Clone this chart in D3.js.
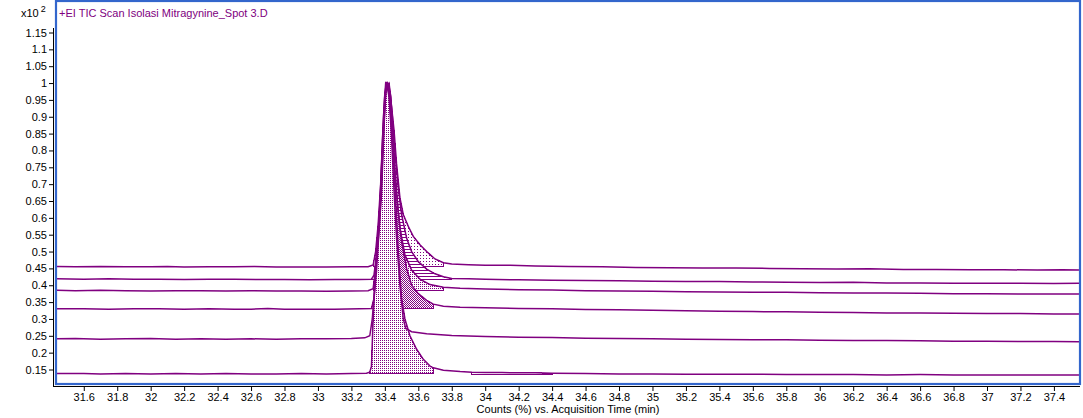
<!DOCTYPE html>
<html><head><meta charset="utf-8">
<script src="https://cdn.jsdelivr.net/npm/d3@7"></script>
<style>body{margin:0;background:#fff;overflow:hidden}</style>
</head><body><svg id="c" width="1083" height="418"></svg>
<script>
const titleText = "+EI TIC Scan Isolasi Mitragynine_Spot 3.D";
const xTitle = "Counts (%) vs. Acquisition Time (min)";
const xTicks = [31.6,31.8,32,32.2,32.4,32.6,32.8,33,33.2,33.4,33.6,33.8,34,34.2,34.4,34.6,34.8,35,35.2,35.4,35.6,35.8,36,36.2,36.4,36.6,36.8,37,37.2,37.4];
const yTicks = [0.15,0.2,0.25,0.3,0.35,0.4,0.45,0.5,0.55,0.6,0.65,0.7,0.75,0.8,0.85,0.9,0.95,1,1.05,1.1,1.15];
const xDomain = [31.434, 37.556];
const yDomain = [0.15, 1.15];

const traceA = [[31.44,0.456],[31.55,0.455],[31.7,0.456],[31.85,0.455],[32.0,0.455],[32.1,0.456],[32.2,0.454],[32.35,0.455],[32.5,0.455],[32.62,0.456],[32.75,0.454],[32.9,0.454],[33.05,0.454],[33.2,0.455],[33.3,0.455],
[33.33,0.46],[33.345,0.50],[33.36,0.58],[33.375,0.70],[33.39,0.88],[33.40,0.97],[33.41,1.0],[33.42,0.995],[33.43,0.97],[33.44,0.93],[33.455,0.86],[33.47,0.76],[33.49,0.66],[33.51,0.61],[33.54,0.575],[33.57,0.545],[33.61,0.52],[33.65,0.50],[33.70,0.478],[33.75,0.467],[33.80,0.463],[33.9,0.461],[34.0,0.459],[34.15,0.459],[34.3,0.457],[34.5,0.456],[34.7,0.455],[34.9,0.453],[35.1,0.452],[35.3,0.451],[35.5,0.451],[35.7,0.450],[35.9,0.449],[36.1,0.448],[36.3,0.449],[36.5,0.447],[36.7,0.447],[36.9,0.446],[37.1,0.446],[37.3,0.445],[37.45,0.446],[37.55,0.445]];
const traceB = [[31.44,0.419],[31.6,0.418],[31.75,0.419],[31.9,0.418],[32.05,0.418],[32.2,0.417],[32.35,0.418],[32.5,0.418],[32.65,0.417],[32.8,0.417],[32.95,0.416],[33.1,0.417],[33.25,0.417],[33.32,0.418],
[33.335,0.43],[33.35,0.49],[33.365,0.58],[33.38,0.72],[33.395,0.90],[33.405,0.975],[33.415,1.0],[33.425,0.99],[33.435,0.96],[33.445,0.90],[33.46,0.80],[33.48,0.69],[33.50,0.61],[33.53,0.54],[33.56,0.50],[33.60,0.47],[33.65,0.448],[33.70,0.434],[33.75,0.425],[33.80,0.420],[33.9,0.419],[34.0,0.418],[34.2,0.416],[34.4,0.415],[34.6,0.414],[34.8,0.413],[35.0,0.412],[35.2,0.411],[35.4,0.411],[35.6,0.410],[35.8,0.409],[36.0,0.408],[36.2,0.409],[36.4,0.407],[36.6,0.407],[36.8,0.406],[37.0,0.406],[37.2,0.406],[37.4,0.405],[37.55,0.406]];
const traceC = [[31.44,0.385],[31.55,0.384],[31.7,0.385],[31.85,0.384],[32.0,0.383],[32.15,0.384],[32.3,0.384],[32.45,0.383],[32.6,0.384],[32.75,0.383],[32.9,0.383],[33.05,0.382],[33.2,0.383],[33.3,0.384],
[33.33,0.39],[33.345,0.45],[33.36,0.55],[33.375,0.68],[33.385,0.82],[33.395,0.93],[33.405,1.0],[33.415,0.995],[33.425,0.98],[33.44,0.90],[33.455,0.78],[33.47,0.67],[33.49,0.57],[33.52,0.49],[33.56,0.445],[33.61,0.418],[33.67,0.402],[33.75,0.394],[33.85,0.391],[34.0,0.389],[34.2,0.387],[34.4,0.386],[34.6,0.384],[34.8,0.383],[35.0,0.382],[35.2,0.381],[35.4,0.380],[35.6,0.379],[35.8,0.379],[36.0,0.378],[36.2,0.377],[36.4,0.377],[36.6,0.376],[36.8,0.375],[37.0,0.375],[37.2,0.374],[37.4,0.374],[37.55,0.374]];
const traceD = [[31.44,0.330],[31.6,0.330],[31.75,0.329],[31.9,0.330],[32.05,0.330],[32.2,0.329],[32.35,0.330],[32.5,0.329],[32.6,0.329],[32.7,0.331],[32.8,0.329],[32.95,0.329],[33.1,0.329],[33.25,0.330],[33.32,0.331],
[33.335,0.36],[33.35,0.44],[33.365,0.56],[33.38,0.70],[33.395,0.88],[33.405,0.97],[33.415,0.995],[33.425,1.0],[33.435,0.96],[33.445,0.88],[33.46,0.74],[33.48,0.62],[33.50,0.53],[33.53,0.45],[33.56,0.40],[33.60,0.375],[33.65,0.355],[33.69,0.344],[33.75,0.338],[33.85,0.335],[34.0,0.333],[34.2,0.331],[34.4,0.330],[34.6,0.328],[34.8,0.327],[35.0,0.326],[35.2,0.324],[35.4,0.323],[35.6,0.322],[35.8,0.321],[36.0,0.320],[36.2,0.319],[36.4,0.318],[36.6,0.318],[36.8,0.317],[37.0,0.316],[37.2,0.316],[37.4,0.315],[37.55,0.315]];
const traceE = [[31.44,0.241],[31.55,0.242],[31.7,0.240],[31.85,0.241],[32.0,0.242],[32.15,0.240],[32.3,0.241],[32.45,0.240],[32.6,0.241],[32.75,0.240],[32.9,0.241],[33.05,0.241],[33.2,0.242],[33.28,0.244],[33.31,0.25],
[33.325,0.30],[33.34,0.40],[33.355,0.52],[33.37,0.64],[33.385,0.80],[33.40,0.95],[33.41,1.0],[33.425,0.96],[33.44,0.84],[33.455,0.68],[33.47,0.54],[33.49,0.40],[33.51,0.30],[33.525,0.272],[33.56,0.262],[33.65,0.256],[33.8,0.251],[34.0,0.248],[34.2,0.246],[34.4,0.245],[34.6,0.243],[34.8,0.242],[35.0,0.241],[35.2,0.240],[35.4,0.239],[35.6,0.238],[35.8,0.238],[36.0,0.237],[36.2,0.236],[36.4,0.236],[36.6,0.235],[36.8,0.234],[37.0,0.234],[37.2,0.233],[37.4,0.233],[37.55,0.232]];
const traceF = [[31.44,0.138],[31.6,0.138],[31.7,0.137],[31.85,0.138],[32.0,0.137],[32.15,0.138],[32.3,0.137],[32.45,0.138],[32.6,0.137],[32.75,0.137],[32.9,0.138],[33.05,0.137],[33.2,0.138],[33.29,0.139],[33.31,0.142],
[33.32,0.16],[33.33,0.30],[33.345,0.45],[33.365,0.56],[33.38,0.67],[33.395,0.87],[33.405,0.97],[33.41,1.0],[33.425,0.97],[33.44,0.87],[33.46,0.70],[33.48,0.50],[33.50,0.36],[33.52,0.30],[33.55,0.25],[33.59,0.21],[33.63,0.18],[33.67,0.16],[33.69,0.155],[33.75,0.148],[33.85,0.144],[33.92,0.142],[34.0,0.141],[34.1,0.141],[34.2,0.140],[34.3,0.140],[34.4,0.139],[34.6,0.138],[34.8,0.137],[35.0,0.137],[35.2,0.136],[35.4,0.136],[35.6,0.136],[35.8,0.135],[36.0,0.135],[36.2,0.135],[36.4,0.134],[36.6,0.135],[36.8,0.134],[37.0,0.134],[37.2,0.134],[37.4,0.134],[37.55,0.134]];

// integration regions: [start, end, baseline]
const fillA = [33.33, 33.75, 0.455];
const fillB = [33.32, 33.80, 0.417];
const fillC = [33.33, 33.75, 0.384];
const fillD = [33.32, 33.69, 0.330];
const fillF = [33.31, 33.69, 0.138];
const fillF2 = [33.92, 34.40, 0.136];

const PURPLE = "#800080";
const svg = d3.select("#c");
const font = "'Liberation Sans', Arial, sans-serif";

const x = d3.scaleLinear().domain(xDomain).range([56, 1080]);
const y = d3.scaleLinear().domain(yDomain).range([369.5, 32.5]);

const defs = svg.append("defs");
defs.append("clipPath").attr("id","plot").append("rect").attr("x",57).attr("y",2).attr("width",1022).attr("height",381);
function pat(id, w, h, rects){
  const p = defs.append("pattern").attr("id",id).attr("patternUnits","userSpaceOnUse").attr("width",w).attr("height",h);
  p.append("rect").attr("width",w).attr("height",h).attr("fill","#fff");
  rects.forEach(r=>p.append("rect").attr("x",r[0]).attr("y",r[1]).attr("width",r[2]).attr("height",r[3]).attr("fill",PURPLE));
}
pat("pSparse",3,3,[[0,0,1,1]]);
pat("pHoriz",3,3,[[0,0,3,1]]);
pat("pDots",2,2,[[0,0,1,1]]);
pat("pCheck",2,2,[[0,0,1,1],[1,1,1,1]]);
pat("pGrid",3,3,[[0,0,1,1],[1,1,1,1],[2,2,1,1]]);

const plot = svg.append("g").attr("clip-path","url(#plot)");

const series = [
  {d:traceA, f:[fillA], p:["pSparse"]},
  {d:traceB, f:[fillB], p:["pHoriz"]},
  {d:traceC, f:[fillC], p:["pDots"]},
  {d:traceD, f:[fillD], p:["pCheck"]},
  {d:traceE, f:[], p:[]},
  {d:traceF, f:[fillF, fillF2], p:["pDots","pDots"]}
];

const line = d3.line().x(d=>x(d[0])).y(d=>y(d[1]));
series.forEach(s=>{
  s.f.forEach((fr,i)=>{
    const pts = s.d.filter(d=>d[0]>=fr[0]-1e-9 && d[0]<=fr[1]+1e-9);
    const area = d3.area().x(d=>x(d[0])).y0(y(fr[2])).y1(d=>y(d[1]));
    plot.append("path").attr("d",area(pts)).attr("fill","url(#"+s.p[i]+")")
      .attr("stroke",PURPLE).attr("stroke-width",1).attr("shape-rendering","crispEdges");
  });
});
series.forEach(s=>{
  plot.append("path").attr("d",line(s.d)).attr("fill","none").attr("stroke",PURPLE).attr("stroke-width",1.5);
});

// frame
svg.append("rect").attr("x",56).attr("y",1).attr("width",1024).attr("height",383)
  .attr("fill","none").attr("stroke","#3366cc").attr("stroke-width",2.2);

// y axis
const yAx = svg.append("g").attr("transform","translate(53,0)")
  .call(d3.axisLeft(y).tickValues(yTicks).tickSize(4).tickSizeOuter(0).tickFormat(d=>String(+d.toFixed(2))));
yAx.select(".domain").remove();
yAx.selectAll("text").attr("font-family",font).attr("font-size",11).attr("fill","#000").attr("x",-6);
yAx.append("line").attr("x1",0.5).attr("x2",0.5).attr("y1",28).attr("y2",386).attr("stroke","#000");

// x axis
const xAx = svg.append("g").attr("transform","translate(0,386)")
  .call(d3.axisBottom(x).tickValues(xTicks).tickSize(5).tickSizeOuter(0).tickFormat(d=>String(+d.toFixed(1))));
xAx.select(".domain").remove();
xAx.selectAll("text").attr("font-family",font).attr("font-size",11).attr("fill","#000").attr("y",7);
xAx.append("line").attr("x1",53).attr("x2",1080).attr("y1",0.5).attr("y2",0.5).attr("stroke","#000");

svg.append("text").attr("x",x((xDomain[0]+xDomain[1])/2)).attr("y",413).attr("text-anchor","middle")
  .attr("font-family",font).attr("font-size",11).text(xTitle);

svg.append("text").attr("x",59).attr("y",17).attr("font-family",font).attr("font-size",11).attr("fill",PURPLE).text(titleText);
const t = svg.append("text").attr("x",21).attr("y",17).attr("font-family",font).attr("font-size",11).attr("fill","#000");
t.append("tspan").text("x10");
t.append("tspan").attr("dx",2).attr("dy",-5).attr("font-size",9).text("2");
</script></body></html>
